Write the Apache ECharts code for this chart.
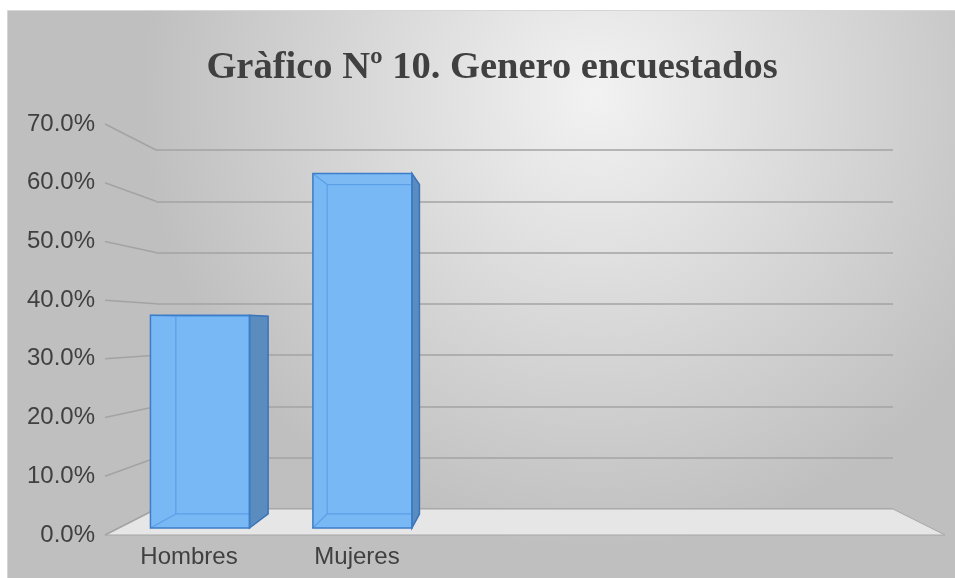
<!DOCTYPE html>
<html>
<head>
<meta charset="utf-8">
<script src="https://cdn.jsdelivr.net/npm/echarts@6/dist/echarts.min.js"></script>
<style>
  html, body { margin: 0; padding: 0; background: #fff; }
  #chart { width: 955px; height: 578px; }
</style>
</head>
<body>
<div id="chart"></div>
<script>
// data
const categories = ['Hombres', 'Mujeres', '', '', ''];
const shares = [0.375, 0.625];
const yTicks = [0, 0.1, 0.2, 0.3, 0.4, 0.5, 0.6, 0.7];

const chart = echarts.init(document.getElementById('chart'));

// depth of the bars between front (0) and back wall (1)
const FRONT_T = 0.27, BACK_T = 0.81, BAR_W = 0.61;

// projects (category, offset in bands, value, depth) onto the screen
function projector(api) {
  const bandF = api.size([1, 0])[0];
  const b0 = chart.convertToPixel({ gridIndex: 0 }, [0, 0]);
  const b1 = chart.convertToPixel({ gridIndex: 0 }, [1, 0]);
  const bandB = b1[0] - b0[0];
  return (cat, dx, v, t) => {
    const f = api.coord([cat, v]);
    const b = chart.convertToPixel({ gridIndex: 0 }, [cat, v]);
    const xf = f[0] + dx * bandF, xb = b[0] + dx * bandB;
    return [xf + t * (xb - xf), f[1] + t * (b[1] - f[1])];
  };
}

const option = {
  animation: false,
  title: {
    text: 'Gràfico Nº 10. Genero encuestados',
    left: 487, top: 44, textAlign: 'center',
    textStyle: { fontFamily: 'Liberation Serif', fontWeight: 'bold', fontSize: 38.5, color: '#404040' }
  },
  graphic: [{
    type: 'rect', z: -10, silent: true,
    shape: { x: 7.5, y: 10.5, width: 948, height: 568 },
    style: {
      fill: new echarts.graphic.RadialGradient(0.62, 0.15, 0.8, [
        { offset: 0, color: '#f2f2f2' },
        { offset: 1, color: '#bfbfbf' }
      ]),
      stroke: '#d6d6d6', lineWidth: 1
    }
  }],
  grid: [
    { left: 156, right: 62, top: 150, bottom: 69 },   // back wall
    { left: 105, right: 10, top: 124, bottom: 43 }    // front plane
  ],
  xAxis: [
    { type: 'category', gridIndex: 0, data: categories, show: false },
    {
      type: 'category', gridIndex: 1, data: categories,
      axisLine: { show: false }, axisTick: { show: false },
      axisLabel: { interval: 0, margin: 10, fontSize: 24, color: '#404040', fontFamily: 'Liberation Sans' }
    }
  ],
  yAxis: [
    {
      type: 'value', gridIndex: 0, min: 0, max: 0.7, interval: 0.1,
      axisLabel: { show: false }, axisLine: { show: false }, axisTick: { show: false },
      splitLine: { lineStyle: { color: '#a3a3a3', width: 1.5 } }
    },
    {
      type: 'value', gridIndex: 1, min: 0, max: 0.7, interval: 0.1,
      axisLine: { show: false }, axisTick: { show: false }, splitLine: { show: false },
      axisLabel: {
        margin: 10, fontSize: 24, color: '#404040', fontFamily: 'Liberation Sans',
        padding: [4, 0, 0, 0],
        formatter: v => (v * 100).toFixed(1) + '%'
      }
    }
  ],
  series: [
    {
      // floor
      type: 'custom', xAxisIndex: 1, yAxisIndex: 1, z: 1, silent: true,
      data: [[0, 0]],
      renderItem: (params, api) => {
        const p = projector(api);
        const last = categories.length - 1;
        return {
          type: 'polygon',
          shape: { points: [p(0, -0.5, 0, 0), p(last, 0.5, 0, 0), p(last, 0.5, 0, 1), p(0, -0.5, 0, 1)] },
          style: { fill: '#e6e6e6', stroke: '#a6a6a6', lineWidth: 1 }
        };
      }
    },
    {
      // slanted ties from the value axis to the back wall
      type: 'custom', xAxisIndex: 1, yAxisIndex: 1, z: 2, silent: true,
      data: yTicks.map(v => [0, v]),
      renderItem: (params, api) => {
        const p = projector(api);
        const v = api.value(1);
        const a = p(0, -0.5, v, 0), b = p(0, -0.5, v, 1);
        return {
          type: 'line',
          shape: { x1: a[0], y1: a[1], x2: b[0], y2: b[1] },
          style: { stroke: '#a3a3a3', lineWidth: 1.5 }
        };
      }
    },
    {
      // bars as boxes
      type: 'custom', xAxisIndex: 1, yAxisIndex: 1, z: 3,
      data: shares.map((v, i) => [i, v]),
      renderItem: (params, api) => {
        const p = projector(api);
        const c = api.value(0), v = api.value(1);
        const h = BAR_W / 2;
        const fbl = p(c, -h, 0, FRONT_T), fbr = p(c, h, 0, FRONT_T);
        const ftl = p(c, -h, v, FRONT_T), ftr = p(c, h, v, FRONT_T);
        const bbl = p(c, -h, 0, BACK_T), bbr = p(c, h, 0, BACK_T);
        const btl = p(c, -h, v, BACK_T), btr = p(c, h, v, BACK_T);
        const inner = { stroke: '#5b9fe6', lineWidth: 1.2 };
        const ln = (a, b) => ({ type: 'line', shape: { x1: a[0], y1: a[1], x2: b[0], y2: b[1] }, style: inner });
        return {
          type: 'group',
          children: [
            { type: 'polygon', shape: { points: [fbl, fbr, ftr, ftl] }, style: { fill: '#78b8f5', stroke: 'none' } },
            { type: 'polygon', shape: { points: [ftl, ftr, btr, btl] }, style: { fill: '#7dbaf4', stroke: 'none' } },
            ln(fbl, bbl), ln(bbl, bbr), ln(bbl, btl), ln(ftl, btl), ln(btl, btr),
            { type: 'polygon', shape: { points: [fbr, bbr, btr, ftr] }, style: { fill: '#5a8cc0', stroke: '#3a73b8', lineWidth: 1.5 } },
            { type: 'polygon', shape: { points: [fbl, fbr, ftr, ftl] }, style: { fill: 'none', stroke: '#3d7cc9', lineWidth: 1.5 } }
          ]
        };
      }
    }
  ]
};

chart.setOption(option);
</script>
</body>
</html>
